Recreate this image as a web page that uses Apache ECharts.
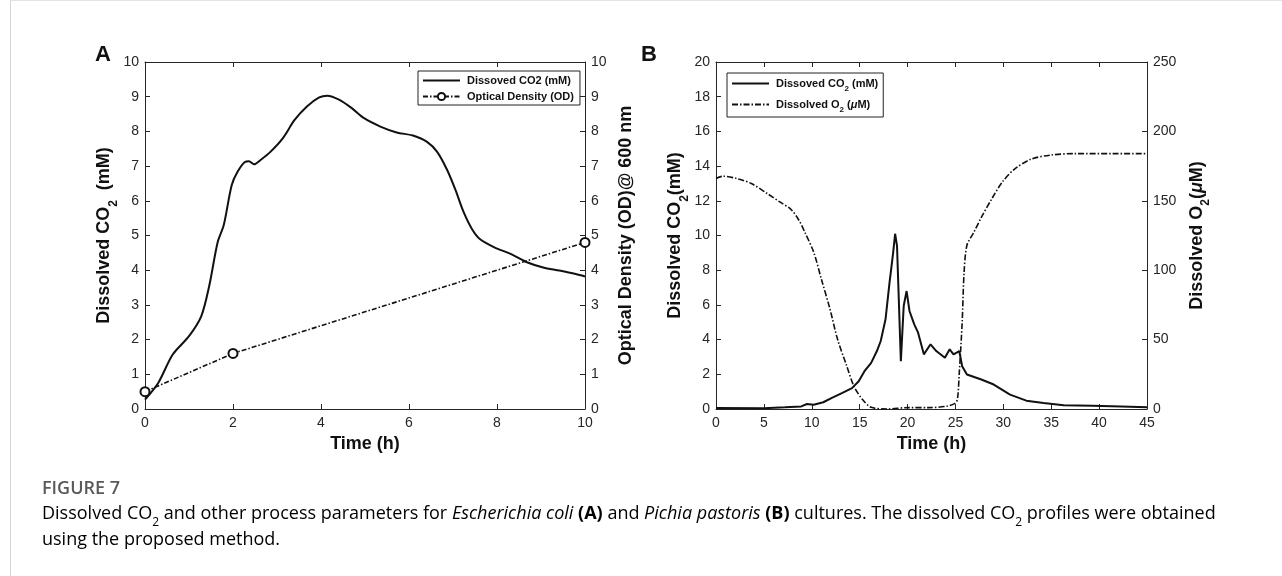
<!DOCTYPE html>
<html><head><meta charset="utf-8">
<script src="https://cdn.jsdelivr.net/npm/echarts@6/dist/echarts.min.js"></script>
<style>html,body{margin:0;padding:0;background:#fff}#c{width:1282px;height:576px}</style>
</head><body><div id="c"></div>
<script>
// ---- Panel A data ----
const aCo2Time = [0,0.3,0.63,1.0,1.28,1.46,1.65,1.79,1.97,2.1,2.27,2.36,2.48,2.62,2.85,3.13,3.4,3.68,3.96,4.14,4.42,4.7,4.98,5.35,5.72,6.09,6.41,6.64,6.87,7.06,7.24,7.43,7.61,7.94,8.31,8.68,9.05,9.42,9.79,10];
const aCo2Val  = [0.27,0.75,1.57,2.1,2.68,3.55,4.8,5.3,6.45,6.83,7.12,7.14,7.05,7.17,7.41,7.8,8.33,8.72,8.98,9.03,8.91,8.67,8.38,8.14,7.97,7.88,7.7,7.41,6.88,6.3,5.68,5.19,4.9,4.66,4.47,4.23,4.08,3.99,3.89,3.82];
const aOdTime = [0,2,10];
const aOdVal  = [0.5,1.6,4.8];
const aXTicks = {min:0,max:10,interval:2};
const aYLeft  = {min:0,max:10,interval:1};
const aYRight = {min:0,max:10,interval:1};
// ---- Panel B data ----
const bCo2Time = [0,5,7.2,8.9,9.5,10.2,11.2,12.1,13.2,14.2,14.9,15.5,16.2,16.8,17.2,17.7,18.1,18.5,18.7,18.9,19.3,19.6,19.9,20.2,20.7,21.1,21.7,22.4,23.0,23.9,24.4,24.8,25.4,25.7,26.2,27.7,29.0,30.7,32.4,34.2,36.3,39.3,42.3,45];
const bCo2Val  = [0.06,0.04,0.1,0.15,0.29,0.25,0.39,0.64,0.93,1.2,1.6,2.18,2.66,3.34,3.92,5.17,7.2,9.03,10.1,9.4,2.76,5.95,6.8,5.65,4.88,4.4,3.15,3.73,3.34,2.95,3.44,3.15,3.34,2.47,1.99,1.7,1.41,0.83,0.48,0.35,0.21,0.19,0.15,0.1];
const bO2Time = [0,0.73,2.2,3.7,5.4,6.7,7.8,8.66,9.3,10.2,11.0,11.9,12.7,13.6,14.4,15.3,16.2,17.9,20,22.2,24.1,24.9,25.2,25.4,25.7,25.9,26.2,26.9,27.7,28.8,29.9,31.2,32.9,35.0,37.6,41.4,45];
const bO2Val  = [166,167.7,166,162.4,155,149,144,136,127,113,93.6,72,50,32,16.4,6.8,1.2,0,1,1,2,3.9,6.8,26,62,98,118,127,138,151.5,163.6,173,180,183,184,184,184];
const bXTicks = {min:0,max:45,interval:5};
const bYLeft  = {min:0,max:20,interval:2};
const bYRight = {min:0,max:250,interval:50};

const zip = (xs, ys) => xs.map((x, i) => [x, ys[i]]);

const AX = '#262626';
const FONT = 'Liberation Sans';
const tickLabel = {color: AX, fontSize: 14, fontFamily: FONT, margin: 7};
function baseAxis(extra) {
  return Object.assign({
    type: 'value',
    axisLine: {show: true, onZero: false, lineStyle: {color: AX, width: 1}},
    axisTick: {show: true, inside: true, length: 5, lineStyle: {color: AX}},
    axisLabel: tickLabel,
    splitLine: {show: false}
  }, extra);
}
const nameRich = {
  n: {fontSize: 18, fontWeight: 'bold', fontFamily: FONT, color: '#111'},
  s: {fontSize: 12, fontWeight: 'bold', fontFamily: FONT, color: '#111', verticalAlign: 'bottom', lineHeight: 10, padding: [0, 0, -6, 0]},
  mu: {fontSize: 18, fontWeight: 'bold', fontStyle: 'italic', fontFamily: FONT, color: '#111'}
};
const nameStyle = {fontSize: 18, fontWeight: 'bold', fontFamily: FONT, color: '#111', rich: nameRich};

const LF = 'Liberation Sans';
const legRich = {
  n: {fontSize: 11, fontWeight: 'bold', fontFamily: LF, color: '#111'},
  s: {fontSize: 8, fontWeight: 'bold', fontFamily: LF, color: '#111', verticalAlign: 'bottom', lineHeight: 8, padding: [0, 0, -4, 0]},
  mu: {fontSize: 11, fontWeight: 'bold', fontStyle: 'italic', fontFamily: LF, color: '#111'}
};
const legNames = {
  aCo2: '{n|Dissoved CO2 (mM)}',
  aOd: '{n|Optical Density (OD)}',
  bCo2: '{n|Dissoved CO}{s|2}{n| (mM)}',
  bO2: '{n|Dissolved O}{s|2}{n| (}{mu|μ}{n|M)}'
};

const CAPC = '#666';
const capRich = {
  n: {fontSize: 18, fontFamily: 'Open Sans', color: CAPC},
  s: {fontSize: 12, fontFamily: 'Open Sans', color: CAPC, verticalAlign: 'bottom', lineHeight: 12, padding: [0, 0, -6, 0]},
  i: {fontSize: 18, fontFamily: 'Open Sans', fontStyle: 'italic', color: CAPC},
  b: {fontSize: 18, fontFamily: 'Open Sans', fontWeight: 'bold', color: CAPC}
};
const hideSym = {opacity: 0};

const option = {
  animation: false,
  backgroundColor: '#fff',
  grid: [
    {left: 145, right: 697, top: 62, bottom: 167},
    {left: 716, right: 135, top: 62, bottom: 167}
  ],
  xAxis: [
    baseAxis(Object.assign({gridIndex: 0, position: 'bottom', name: 'Time (h)', nameLocation: 'middle', nameGap: 26, nameTextStyle: nameStyle}, aXTicks)),
    baseAxis(Object.assign({gridIndex: 0, position: 'top', axisLabel: {show: false}}, aXTicks)),
    baseAxis(Object.assign({gridIndex: 1, position: 'bottom', name: 'Time (h)', nameLocation: 'middle', nameGap: 26, nameTextStyle: nameStyle}, bXTicks)),
    baseAxis(Object.assign({gridIndex: 1, position: 'top', axisLabel: {show: false}}, bXTicks))
  ],
  yAxis: [
    baseAxis(Object.assign({gridIndex: 0, position: 'left', name: '{n|Dissolved CO}{s|2}{n|  (mM)}', nameLocation: 'middle', nameGap: 26, nameTextStyle: nameStyle, axisLabel: Object.assign({}, tickLabel, {margin: 6})}, aYLeft)),
    baseAxis(Object.assign({gridIndex: 0, position: 'right', name: 'Optical Density (OD)@ 600 nm', nameLocation: 'middle', nameGap: 32, nameTextStyle: nameStyle, axisLabel: Object.assign({}, tickLabel, {margin: 6})}, aYRight)),
    baseAxis(Object.assign({gridIndex: 1, position: 'left', name: '{n|Dissolved CO}{s|2}{n|(mM)}', nameLocation: 'middle', nameGap: 27, nameTextStyle: nameStyle, axisLabel: Object.assign({}, tickLabel, {margin: 6})}, bYLeft)),
    baseAxis(Object.assign({gridIndex: 1, position: 'right', name: '{n|Dissolved O}{s|2}{n|(}{mu|μ}{n|M)}', nameLocation: 'middle', nameGap: 41, nameTextStyle: nameStyle, axisLabel: Object.assign({}, tickLabel, {margin: 6})}, bYRight))
  ],
  legend: [
    {data: [{name: 'aCo2', itemStyle: hideSym}, {name: 'aOd'}], orient: 'vertical', left: 418, top: 71, itemWidth: 37, itemHeight: 9, itemGap: 5,
     padding: [4, 6, 3, 4], borderColor: '#222', borderWidth: 1, backgroundColor: '#fff',
     formatter: n => legNames[n], textStyle: {rich: legRich, padding: [0, 0, 0, 2]}},
    {data: [{name: 'bCo2', itemStyle: hideSym}, {name: 'bO2', itemStyle: hideSym}], orient: 'vertical', left: 727, top: 73, itemWidth: 37, itemHeight: 9, itemGap: 6,
     padding: [5, 5, 3, 4], borderColor: '#222', borderWidth: 1, backgroundColor: '#fff',
     formatter: n => legNames[n], textStyle: {rich: legRich, padding: [0, 0, 0, 2]}}
  ],
  series: [
    {name: 'aCo2', type: 'line', xAxisIndex: 0, yAxisIndex: 0, data: zip(aCo2Time, aCo2Val), smooth: 0.3,
     symbol: 'none', lineStyle: {color: '#111', width: 2}, itemStyle: {color: '#111'}},
    {name: 'aOd', type: 'line', xAxisIndex: 0, yAxisIndex: 1, data: zip(aOdTime, aOdVal),
     symbol: 'emptyCircle', showSymbol: true, symbolSize: 9, lineStyle: {color: '#111', width: 1.6, type: [5, 2, 1.5, 2]},
     itemStyle: {color: '#111', borderColor: '#111', borderWidth: 1.5}},
    {name: 'bCo2', type: 'line', xAxisIndex: 2, yAxisIndex: 2, data: zip(bCo2Time, bCo2Val),
     symbol: 'none', lineStyle: {color: '#111', width: 2}, itemStyle: {color: '#111'}},
    {name: 'bO2', type: 'line', xAxisIndex: 2, yAxisIndex: 3, data: zip(bO2Time, bO2Val), smooth: 0.3,
     symbol: 'none', lineStyle: {color: '#111', width: 1.6, type: [6, 2, 1.5, 2]}, itemStyle: {color: '#111'}}
  ],
  graphic: [
    {type: 'line', shape: {x1: 10.5, y1: 0, x2: 10.5, y2: 576}, style: {stroke: '#d5d5d5', lineWidth: 1}},
    {type: 'line', shape: {x1: 10, y1: 0.5, x2: 1282, y2: 0.5}, style: {stroke: '#e3e3e3', lineWidth: 1}},
    {type: 'text', left: 95, top: 44, style: {text: 'A', font: 'bold 22px "Liberation Sans"', fill: '#111'}},
    {type: 'text', left: 641, top: 44, style: {text: 'B', font: 'bold 22px "Liberation Sans"', fill: '#111'}},
    {type: 'text', left: 42, top: 480, style: {text: 'FIGURE 7', font: '600 18px "Open Sans"', fill: '#5a5a5a'}},
    {type: 'text', left: 42, top: 505, style: {
      text: '{n|Dissolved CO}{s|2}{n| and other process parameters for }{i|Escherichia coli}{n| }{b|(A)}{n| and }{i|Pichia pastoris}{n| }{b|(B)}{n| cultures. The dissolved CO}{s|2}{n| profiles were obtained}',
      rich: capRich}},
    {type: 'text', left: 42, top: 531, style: {text: '{n|using the proposed method.}', rich: capRich}}
  ]
};
const chart = echarts.init(document.getElementById('c'), null, {renderer: 'canvas'});
chart.setOption(option);
</script></body></html>
